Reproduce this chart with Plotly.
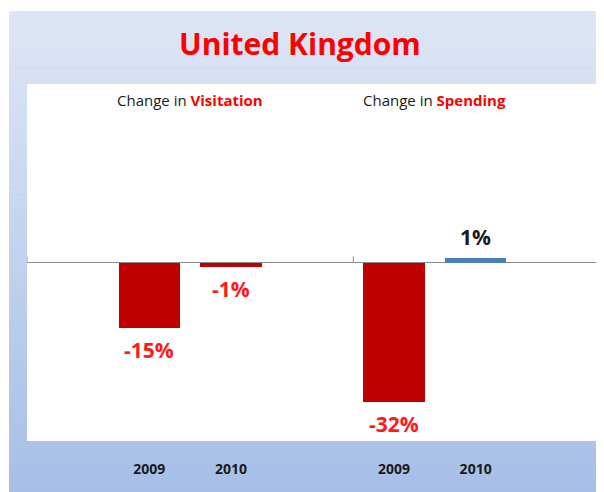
import plotly.graph_objects as go

# ---- data ----
groups = ["Visitation", "Visitation", "Spending", "Spending"]
years = ["2009", "2010", "2009", "2010"]
positions = [0, 1, 3, 4]
values = [-15, -1, -32, 1]
labels = ["-15%", "-1%", "-32%", "1%"]
section_titles = ["Visitation", "Spending"]
section_centers = [0.5, 3.5]
separators = [-1.5, 2.5]

# page has an 8px body margin; figure fills the rest of the 604x492 window
OFF = 8
W, H = 604 - OFF, 492 - OFF
RED_BAR = "#c00000"
BLUE_BAR = "#4a7ebb"
FONT = "Open Sans"


def px(x):
    return (x - OFF) / W


def py(y):
    return 1 - (y - OFF) / H


bar_colors = [RED_BAR if v < 0 else BLUE_BAR for v in values]

fig = go.Figure()
fig.add_trace(go.Bar(
    x=positions, y=values, width=0.75,
    marker=dict(color=bar_colors, line=dict(width=0)),
    hoverinfo="skip", showlegend=False,
))

# ---- gradient panel via stripes ----
def lerp(a, b, t):
    return int(round(a + (b - a) * t))

top = (222, 230, 245)
bot = (167, 190, 231)
px0, px1 = px(9), 1.0
py_top, py_bot = py(11), 0.0
n = 80
shapes = []
for i in range(n):
    t = i / (n - 1)
    c = tuple(lerp(top[k], bot[k], t) for k in range(3))
    y1 = py_top - (py_top - py_bot) * i / n
    y0 = py_top - (py_top - py_bot) * (i + 1) / n - 0.001
    shapes.append(dict(type="rect", xref="paper", yref="paper", x0=px0, x1=px1,
                       y0=max(y0, 0), y1=y1, line=dict(width=0),
                       fillcolor="rgb(%d,%d,%d)" % c, layer="below"))

# plot area box (white)
xd = [px(27), px(598)]
yd = [py(441), py(84)]
shapes.append(dict(type="rect", xref="paper", yref="paper", x0=xd[0], x1=xd[1],
                   y0=yd[0], y1=yd[1], line=dict(width=0), fillcolor="white", layer="below"))

# category separator ticks
for s in separators:
    shapes.append(dict(type="line", xref="x", yref="y", x0=s, x1=s, y0=0, y1=1.4,
                       line=dict(color="#8c8c8c", width=1)))

annotations = []
annotations.append(dict(text="<b>United Kingdom</b>", x=px(300), y=py(44), xref="paper", yref="paper",
                        showarrow=False, font=dict(family=FONT, size=30, color="#ff0000"),
                        xanchor="center", yanchor="middle"))
for c, t in zip(section_centers, section_titles):
    annotations.append(dict(text="Change in <b><span style='color:#ff0000'>%s</span></b>" % t,
                            x=c, y=py(100), xref="x", yref="paper", showarrow=False,
                            font=dict(family=FONT, size=15, color="#1a1a1a"),
                            xanchor="center", yanchor="middle"))
for p, v, lab in zip(positions, values, labels):
    neg = v < 0
    annotations.append(dict(text="<b>%s</b>" % lab, x=p, y=v, xref="x", yref="y",
                            showarrow=False, yshift=-22 if neg else 21,
                            font=dict(family=FONT, size=21, color="#ff1a1a" if neg else "#1a1a1a"),
                            xanchor="center", yanchor="middle"))

fig.update_layout(
    width=W, height=H,
    margin=dict(l=0, r=0, t=0, b=0),
    paper_bgcolor="white",
    plot_bgcolor="rgba(0,0,0,0)",
    shapes=shapes,
    annotations=annotations,
    bargap=0,
    xaxis=dict(domain=xd, range=[-1.5, 5.5], tickvals=positions, ticktext=["<b>%s</b>" % y for y in years],
               tickfont=dict(family=FONT, size=14, color="#1a1a1a"), showgrid=False, zeroline=False,
               showline=False, ticks="", ticklabelstandoff=18, fixedrange=True),
    yaxis=dict(domain=yd, range=[-41, 41], showgrid=False, showticklabels=False,
               zeroline=True, zerolinecolor="#8c8c8c", zerolinewidth=1, showline=False, ticks="",
               fixedrange=True),
)

fig.write_html("out.html")
